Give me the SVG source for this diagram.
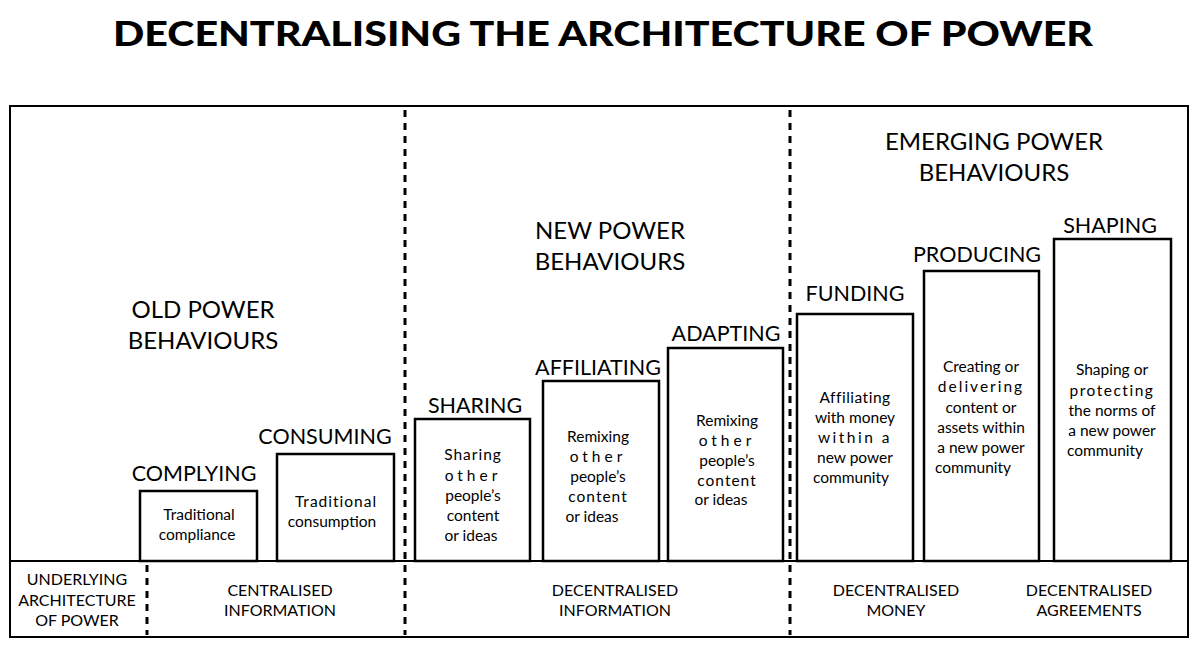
<svg xmlns="http://www.w3.org/2000/svg" width="1200" height="647" viewBox="0 0 1200 647">
<style>
text{font-family:Lato,"Open Sans","Liberation Sans",sans-serif;fill:#000;text-anchor:middle}
.t{font-weight:900;font-size:34px}
.h{font-size:24px}
.l{font-size:21.5px}
.b{font-size:15.5px}
.f{font-size:16px}
.bar{fill:#fff;stroke:#000;stroke-width:2.5}
.d{stroke:#000;stroke-width:3;stroke-dasharray:7,6;fill:none}
</style>
<rect width="1200" height="647" fill="#fff"/>
<text class="t" x="603" y="46" textLength="980" lengthAdjust="spacingAndGlyphs">DECENTRALISING THE ARCHITECTURE OF POWER</text>
<g id="frame"><rect x="10" y="106" width="1178" height="531" fill="none" stroke="#000" stroke-width="2"/>
<line x1="10" y1="561" x2="1188" y2="561" stroke="#000" stroke-width="2"/></g>
<g id="connectors">
<line class="d" x1="405" y1="110" x2="405" y2="635"/>
<line class="d" x1="790" y1="110" x2="790" y2="635"/>
<line class="d" x1="147" y1="565" x2="147" y2="635"/>
</g>
<g id="old"><text class="h" x="203" y="318">OLD POWER</text><text class="h" x="203" y="349">BEHAVIOURS</text></g>
<g id="new"><text class="h" x="610" y="239">NEW POWER</text><text class="h" x="610" y="270">BEHAVIOURS</text></g>
<g id="emerging"><text class="h" x="994" y="150">EMERGING POWER</text><text class="h" x="994" y="181">BEHAVIOURS</text></g>
<g id="complying"><rect class="bar" x="140" y="491" width="117" height="70"/><text class="l" x="194" y="481">COMPLYING</text>
<text class="b" x="199" y="520">Traditional</text><text class="b" x="197" y="540">compliance</text></g>
<g id="consuming"><rect class="bar" x="277" y="454" width="117" height="107"/><text class="l" x="325" y="444">CONSUMING</text>
<text class="b" x="336" y="507" letter-spacing="1">Traditional</text><text class="b" x="332" y="527">consumption</text></g>
<g id="sharing"><rect class="bar" x="415" y="419" width="115" height="142"/><text class="l" x="475" y="413">SHARING</text>
<text class="b" x="473" y="460" letter-spacing="1">Sharing</text><text class="b" x="473" y="481" letter-spacing="4">other</text><text class="b" x="473" y="501">people’s</text><text class="b" x="473" y="521">content</text><text class="b" x="471" y="541">or ideas</text></g>
<g id="affiliating"><rect class="bar" x="543" y="381" width="116" height="180"/><text class="l" x="598" y="375">AFFILIATING</text>
<text class="b" x="598" y="442">Remixing</text><text class="b" x="598" y="462" letter-spacing="4">other</text><text class="b" x="598" y="482">people’s</text><text class="b" x="598" y="502" letter-spacing="1">content</text><text class="b" x="592" y="522">or ideas</text></g>
<g id="adapting"><rect class="bar" x="668" y="348" width="115" height="213"/><text class="l" x="726" y="341">ADAPTING</text>
<text class="b" x="727" y="426">Remixing</text><text class="b" x="727" y="446" letter-spacing="4">other</text><text class="b" x="727" y="466">people’s</text><text class="b" x="727" y="486" letter-spacing="1">content</text><text class="b" x="721" y="505">or ideas</text></g>
<g id="funding"><rect class="bar" x="797" y="314" width="116" height="247"/><text class="l" x="855" y="301">FUNDING</text>
<text class="b" x="855" y="403" letter-spacing="0.5">Affiliating</text><text class="b" x="855" y="423">with money</text><text class="b" x="855" y="443" letter-spacing="2.5">within a</text><text class="b" x="855" y="463">new power</text><text class="b" x="851" y="483">community</text></g>
<g id="producing"><rect class="bar" x="924" y="271" width="115" height="290"/><text class="l" x="977" y="262">PRODUCING</text>
<text class="b" x="981" y="372">Creating  or</text><text class="b" x="981" y="392" letter-spacing="2">delivering</text><text class="b" x="981" y="413">content  or</text><text class="b" x="981" y="433">assets within</text><text class="b" x="981" y="453">a new power</text><text class="b" x="973" y="473">community</text></g>
<g id="shaping"><rect class="bar" x="1054" y="239" width="117" height="322"/><text class="l" x="1110" y="233">SHAPING</text>
<text class="b" x="1112" y="375">Shaping  or</text><text class="b" x="1112" y="396" letter-spacing="1.5">protecting</text><text class="b" x="1112" y="416">the norms of</text><text class="b" x="1112" y="436">a new power</text><text class="b" x="1105" y="456">community</text></g>
<g id="bottom">
<text class="f" x="77" y="585">UNDERLYING</text><text class="f" x="77" y="606">ARCHITECTURE</text><text class="f" x="77" y="626">OF POWER</text>
<text class="f" x="280" y="596">CENTRALISED</text><text class="f" x="280" y="616">INFORMATION</text>
<text class="f" x="615" y="596">DECENTRALISED</text><text class="f" x="615" y="616">INFORMATION</text>
<text class="f" x="896" y="596">DECENTRALISED</text><text class="f" x="896" y="616">MONEY</text>
<text class="f" x="1089" y="596">DECENTRALISED</text><text class="f" x="1089" y="616">AGREEMENTS</text>
</g>
</svg>
